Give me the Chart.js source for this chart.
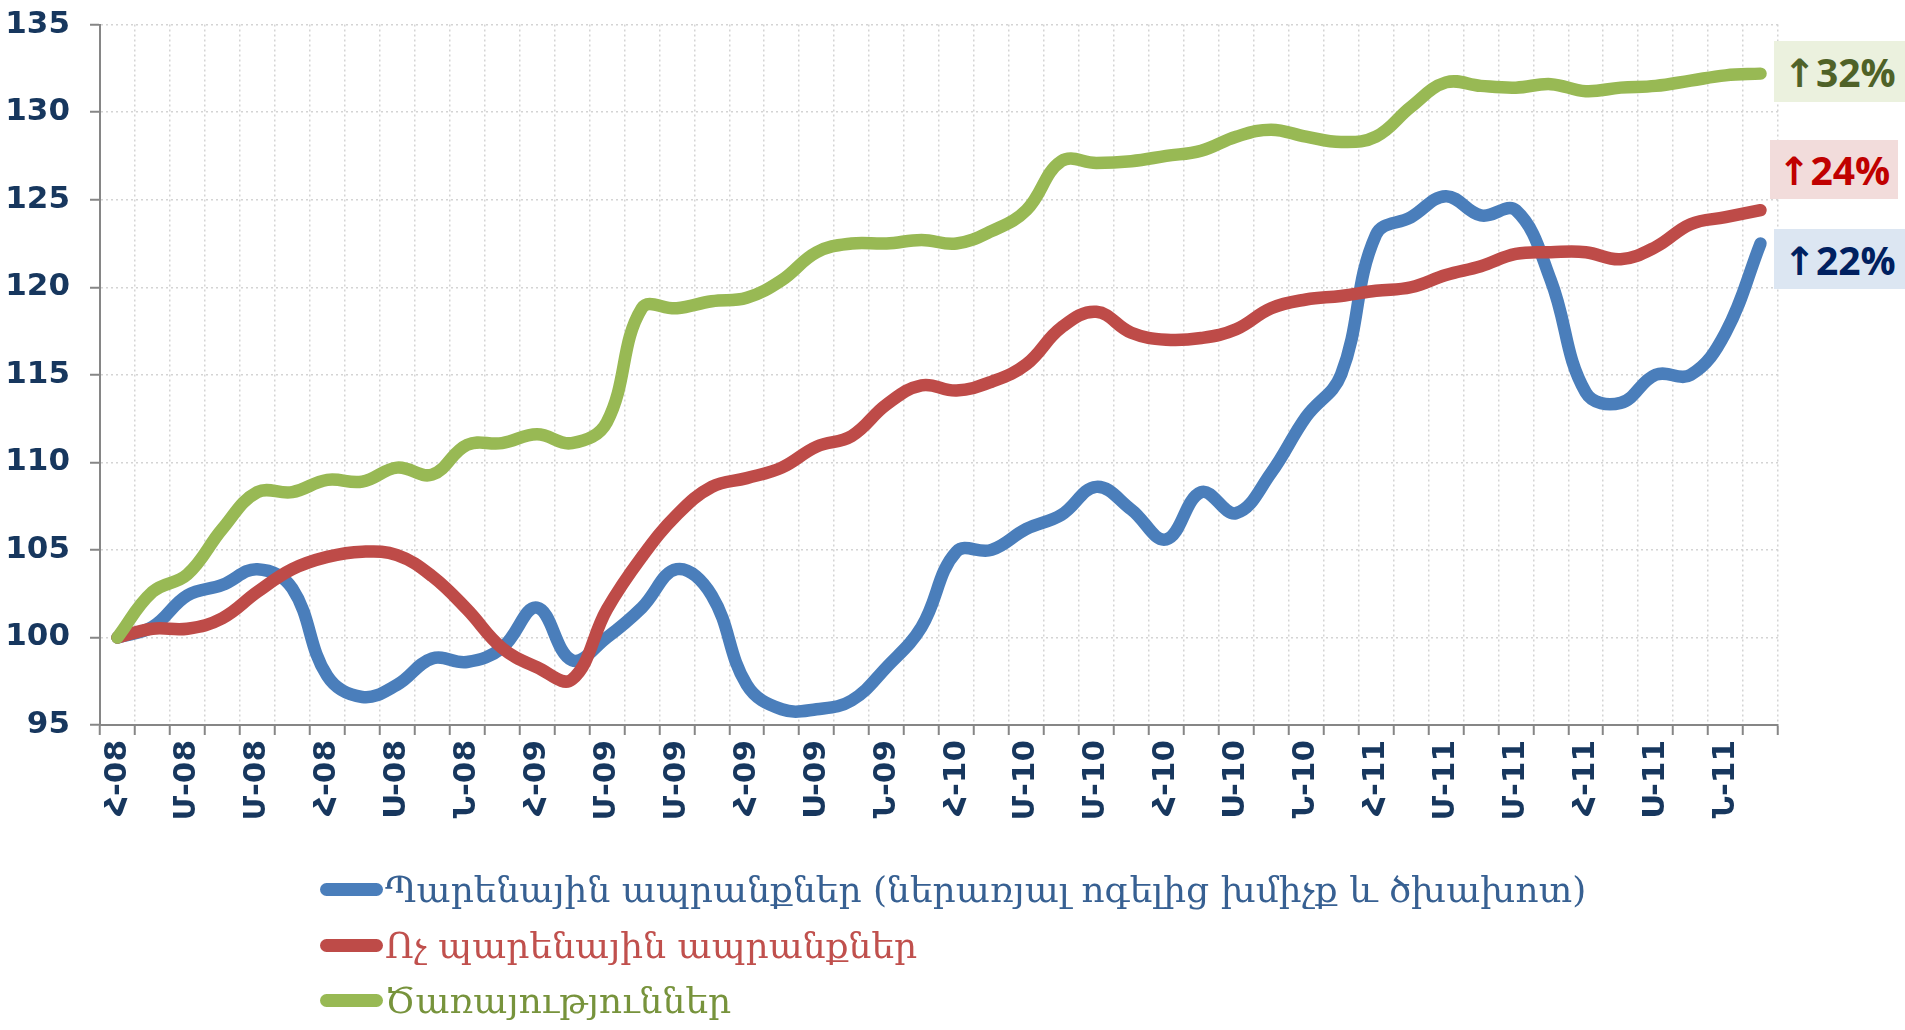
<!DOCTYPE html>
<html>
<head>
<meta charset="utf-8">
<script src="https://cdn.jsdelivr.net/npm/chart.js@4.4.0/dist/chart.umd.min.js"></script>
<style>
  body { margin: 0; background: #fff; }
  #wrap { position: relative; width: 1905px; height: 1030px; overflow: hidden; }
  #chart { position: absolute; left: 0; top: -14px; }
  .tag { position: absolute; display: flex; align-items: center; justify-content: center;
         font: bold 39px "Open Sans", "DejaVu Sans", sans-serif; }
  #legend { position: absolute; left: 320px; top: 862px; font: 36px "DejaVu Serif", serif; }
  .row { display: flex; align-items: center; height: 55.5px; white-space: nowrap; }
  .sw { width: 63px; height: 13px; border-radius: 7px; margin-right: 2px; }
</style>
</head>
<body>
<div id="wrap">
  <canvas id="chart" width="1905" height="1044"></canvas>
  <div id="legend"></div>
  <div class="tag" style="left:1774px;top:41px;width:131px;height:61px;background:#EBF1DE;color:#4F6228;">↑32%</div>
  <div class="tag" style="left:1770px;top:140px;width:128px;height:59px;background:#F2DCDB;color:#C00000;">↑24%</div>
  <div class="tag" style="left:1774px;top:229px;width:131px;height:60px;background:#DCE6F2;color:#002060;">↑22%</div>
</div>
<script>
// months Jan 2008 - Dec 2011 (Armenian initials)
const months = [
  'Հ-08','Փ-08','Մ-08','Ա-08','Մ-08','Հ-08','Հ-08','Օ-08','Ս-08','Հ-08','Ն-08','Դ-08',
  'Հ-09','Փ-09','Մ-09','Ա-09','Մ-09','Հ-09','Հ-09','Օ-09','Ս-09','Հ-09','Ն-09','Դ-09',
  'Հ-10','Փ-10','Մ-10','Ա-10','Մ-10','Հ-10','Հ-10','Օ-10','Ս-10','Հ-10','Ն-10','Դ-10',
  'Հ-11','Փ-11','Մ-11','Ա-11','Մ-11','Հ-11','Հ-11','Օ-11','Ս-11','Հ-11','Ն-11','Դ-11'
];

const food = [
  100.0, 100.6, 102.4, 103.0, 103.9, 102.8, 97.8, 96.6, 97.3, 98.8, 98.6, 99.4,
  101.7, 98.7, 100.0, 101.7, 103.9, 102.4, 97.3, 95.9, 95.9, 96.4, 98.3, 100.6,
  104.9, 105.0, 106.2, 107.0, 108.6, 107.3, 105.6, 108.3, 107.1, 109.4, 112.6, 115.0,
  123.0, 124.0, 125.2, 124.1, 124.4, 120.4, 114.0, 113.4, 115.0, 115.0, 117.4, 122.5
];

const nonFood = [
  100.0, 100.5, 100.5, 101.1, 102.6, 103.9, 104.6, 104.9, 104.7, 103.5, 101.6, 99.4,
  98.3, 97.6, 101.6, 104.6, 107.0, 108.6, 109.1, 109.7, 110.9, 111.5, 113.3, 114.4,
  114.1, 114.6, 115.6, 117.7, 118.6, 117.4, 117.0, 117.1, 117.6, 118.8, 119.3, 119.5,
  119.8, 120.0, 120.7, 121.2, 121.9, 122.0, 122.0, 121.6, 122.3, 123.6, 124.0, 124.4
];

const services = [
  100.0, 102.6, 103.6, 106.2, 108.3, 108.3, 109.0, 108.9, 109.7, 109.3, 111.0, 111.1,
  111.6, 111.1, 112.3, 118.8, 118.8, 119.2, 119.4, 120.4, 122.0, 122.5, 122.5, 122.7,
  122.5, 123.2, 124.4, 127.2, 127.1, 127.2, 127.5, 127.8, 128.6, 129.0, 128.6, 128.3,
  128.6, 130.3, 131.7, 131.5, 131.4, 131.6, 131.2, 131.4, 131.5, 131.8, 132.1, 132.2
];

const seriesNames = [
  'Պարենային ապրանքներ (ներառյալ  ոգելից խմիչք և ծխախոտ)',
  'Ոչ պարենային ապրանքներ',
  'Ծառայություններ'
];
const lineColors = ['#4A7EBB', '#BE4B48', '#98B954'];
const textColors = ['#376092', '#C0504D', '#77933C'];

const navy = '#17375E';
const axisGrey = '#868686';

const ctx = document.getElementById('chart').getContext('2d');
new Chart(ctx, {
  type: 'line',
  data: {
    labels: months,
    datasets: [
      { label: seriesNames[0], data: food, borderColor: lineColors[0], order: 3 },
      { label: seriesNames[1], data: nonFood, borderColor: lineColors[1], order: 2 },
      { label: seriesNames[2], data: services, borderColor: lineColors[2], order: 1 }
    ]
  },
  options: {
    responsive: false,
    animation: false,
    layout: { autoPadding: false, padding: { top: 22, right: 127, left: 0, bottom: 0 } },
    plugins: { legend: { display: false }, tooltip: { enabled: false } },
    elements: {
      point: { radius: 0 },
      line: { tension: 0.4, borderWidth: 12.5, borderCapStyle: 'round', borderJoinStyle: 'round', fill: false }
    },
    scales: {
      x: {
        offset: true,
        grid: { offset: true, color: '#D4D4D4', lineWidth: 1.5, tickLength: 10, tickColor: axisGrey, tickWidth: 2 },
        border: { color: axisGrey, width: 2, dash: [2, 3] },
        ticks: {
          autoSkip: false, minRotation: 90, maxRotation: 90, padding: 5,
          color: navy, font: { family: 'DejaVu Sans', size: 31, weight: 'bold' },
          callback: function (v, i) { return i % 2 === 0 ? this.getLabelForValue(v) : ''; }
        },
        afterFit: function (s) { s.height = 305; }
      },
      y: {
        min: 95, max: 135,
        grid: { color: '#D4D4D4', lineWidth: 1.5, tickLength: 10, tickColor: axisGrey, tickWidth: 2 },
        border: { color: axisGrey, width: 2, dash: [2, 3] },
        ticks: {
          stepSize: 5, padding: 20,
          color: navy, font: { family: 'DejaVu Sans', size: 31, weight: 'bold' }
        },
        afterFit: function (s) { s.width = 100; }
      }
    }
  }
});

// legend rows
const legend = document.getElementById('legend');
seriesNames.forEach(function (name, i) {
  const row = document.createElement('div');
  row.className = 'row';
  const sw = document.createElement('span');
  sw.className = 'sw';
  sw.style.background = lineColors[i];
  const txt = document.createElement('span');
  txt.textContent = name;
  txt.style.color = textColors[i];
  row.appendChild(sw);
  row.appendChild(txt);
  legend.appendChild(row);
});
</script>
</body>
</html>
